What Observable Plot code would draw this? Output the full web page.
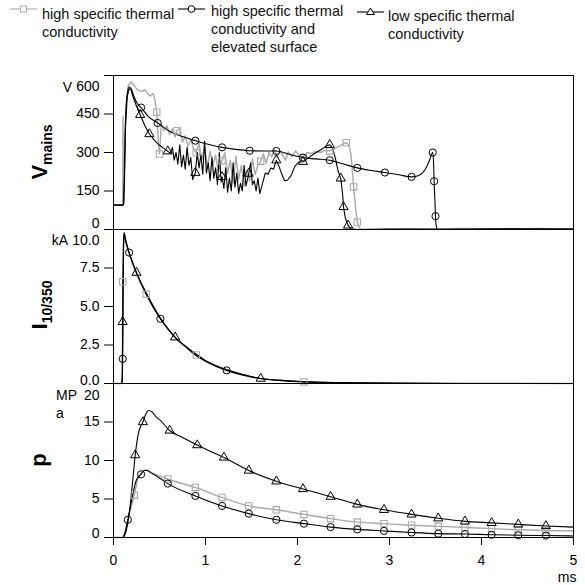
<!DOCTYPE html>
<html><head><meta charset="utf-8">
<script src="https://cdn.jsdelivr.net/npm/d3@7"></script>
<script src="https://cdn.jsdelivr.net/npm/@observablehq/plot@0.6"></script>
<style>
body{margin:0;background:#fff;font-family:"Liberation Sans",Arial,sans-serif;}
#wrap{position:relative;width:585px;height:585px;overflow:hidden;background:#fff;}
.panel{position:absolute;left:0;}
.lg{position:absolute;font-size:14.5px;line-height:18px;color:#111;white-space:nowrap;}
.ic{position:absolute;overflow:visible;}
</style></head><body><div id="wrap"></div>
<script>
// ---------- data ----------
const seriesNames = ["high specific thermal conductivity", "high specific thermal conductivity and elevated surface", "low specific thermal conductivity"];
const xTicks = [0, 1, 2, 3, 4, 5];
const vTicks = [0, 150, 300, 450, 600];
const iTicks = [0, 2.5, 5, 7.5, 10];
const pTicks = [0, 5, 10, 15, 20];

// V_mains (V) vs time (ms)
const vSquare = [[0,95],[0.1,95],[0.103,440],[0.108,140],[0.12,260],[0.135,480],[0.16,560],[0.19,575],[0.22,565],[0.25,548],[0.28,540],[0.31,538],[0.34,545],[0.37,530],[0.40,520],[0.43,530],[0.45,505],[0.47,457],[0.49,330],[0.50,294],[0.52,410],[0.55,385],[0.58,405],[0.61,370],[0.64,392],[0.67,360],[0.69,385],[0.72,395],[0.75,340],[0.78,365],[0.81,325],[0.84,350],[0.87,315],[0.90,300],[0.93,335],[0.96,270],[0.99,320],[1.02,245],[1.05,305],[1.08,250],[1.11,290],[1.14,225],[1.18,268],[1.21,300],[1.24,220],[1.27,270],[1.30,180],[1.33,285],[1.36,195],[1.39,250],[1.42,170],[1.45,230],[1.48,190],[1.51,275],[1.54,215],[1.57,250],[1.60,266],[1.63,295],[1.66,258],[1.69,300],[1.72,282],[1.75,312],[1.78,280],[1.81,305],[1.84,288],[1.87,270],[1.90,302],[1.94,284],[1.98,306],[2.02,288],[2.06,280],[2.10,300],[2.15,296],[2.20,305],[2.25,300],[2.30,308],[2.35,306],[2.40,314],[2.45,324],[2.50,334],[2.53,338],[2.56,328],[2.58,295],[2.60,215],[2.61,166],[2.63,90],[2.65,29],[2.67,6],[2.70,0],[3.0,3],[3.4,1],[3.8,4],[4.2,2],[4.6,4],[5.0,2]];
const vSquareM = [[0.47,457],[0.50,294],[0.69,385],[0.90,300],[1.18,268],[1.60,266],[2.06,280],[2.35,306],[2.53,338],[2.61,166],[2.65,29]];

const vCircle = [[0,95],[0.1,95],[0.11,100],[0.12,250],[0.13,420],[0.15,530],[0.17,555],[0.19,550],[0.22,520],[0.26,490],[0.30,475],[0.38,440],[0.48,415],[0.60,385],[0.75,362],[0.89,346],[1.05,330],[1.18,320],[1.33,312],[1.48,307],[1.62,306],[1.77,306],[1.92,292],[2.06,280],[2.20,275],[2.35,270],[2.50,255],[2.65,240],[2.80,230],[2.95,222],[3.10,213],[3.24,205],[3.32,210],[3.38,230],[3.43,265],[3.47,300],[3.48,250],[3.485,188],[3.495,100],[3.50,52],[3.51,10],[3.52,0],[4.0,2],[4.5,1],[5.0,2]];
const vCircleM = [[0.30,475],[0.48,415],[0.89,346],[1.18,320],[1.48,307],[1.77,306],[2.06,280],[2.35,270],[2.65,240],[2.95,222],[3.24,205],[3.47,300],[3.485,188],[3.50,52]];

const vTriangle = [[0,95],[0.1,95],[0.11,100],[0.12,200],[0.13,400],[0.15,520],[0.17,548],[0.19,545],[0.21,520],[0.25,480],[0.29,447],[0.34,405],[0.39,372],[0.45,345],[0.50,328],[0.55,315],[0.59,305],[0.62,296],[0.64,320],[0.66,270],[0.68,300],[0.70,255],[0.72,330],[0.74,245],[0.76,290],[0.78,235],[0.80,320],[0.82,250],[0.84,280],[0.86,195],[0.89,221],[0.91,300],[0.93,240],[0.95,290],[0.97,215],[0.99,345],[1.01,220],[1.03,260],[1.05,190],[1.07,280],[1.09,200],[1.11,240],[1.13,175],[1.15,300],[1.17,185],[1.18,205],[1.20,160],[1.22,240],[1.24,145],[1.26,200],[1.28,150],[1.30,260],[1.32,165],[1.34,220],[1.36,140],[1.38,180],[1.40,150],[1.42,250],[1.44,170],[1.47,218],[1.49,260],[1.51,175],[1.53,190],[1.55,150],[1.57,200],[1.59,140],[1.62,180],[1.65,220],[1.68,215],[1.71,240],[1.74,235],[1.77,270],[1.80,245],[1.83,215],[1.86,190],[1.89,192],[1.93,210],[1.97,245],[2.01,262],[2.06,264],[2.12,280],[2.18,295],[2.25,310],[2.31,325],[2.35,330],[2.38,318],[2.41,280],[2.44,230],[2.47,199],[2.49,140],[2.50,88],[2.52,45],[2.55,16],[2.58,3],[2.65,0],[3.2,2],[3.9,1],[4.5,3],[5.0,1]];
const vTriangleM = [[0.29,447],[0.39,372],[0.59,305],[0.89,221],[1.18,205],[1.47,218],[1.77,270],[2.06,264],[2.35,330],[2.47,199],[2.50,88],[2.55,16]];

// I 10/350 (kA)
const iSquare = [[0,0],[0.09,0],[0.095,0.4],[0.10,6.6],[0.105,8.6],[0.11,9.5],[0.115,9.6],[0.13,9.2],[0.17,8.4],[0.25,7.1],[0.355,5.8],[0.51,4.2],[0.67,3.0],[0.80,2.3],[0.90,1.85],[1.0,1.45],[1.23,0.85],[1.4,0.55],[1.6,0.32],[1.8,0.2],[2.07,0.1],[2.4,0.06],[2.8,0.05],[3.0,0.02],[4.0,0.02],[5.0,0.0]];
const iSquareM = [[0.10,6.6],[0.355,5.8],[0.90,1.85],[2.07,0.1]];
const iCircle = [[0,0],[0.09,0],[0.095,0.3],[0.10,1.6],[0.105,6.0],[0.11,9.0],[0.115,9.7],[0.13,9.3],[0.17,8.5],[0.25,7.2],[0.355,5.8],[0.51,4.2],[0.67,3.0],[0.80,2.3],[0.90,1.8],[1.0,1.45],[1.23,0.85],[1.4,0.55],[1.6,0.32],[1.8,0.2],[2.07,0.1],[2.4,0.05],[3.0,0.02],[4.0,0.0],[5.0,0.0]];
const iCircleM = [[0.10,1.6],[0.17,8.5],[0.51,4.2],[1.23,0.85]];
const iTriangle = [[0,0],[0.09,0],[0.095,0.3],[0.10,4.0],[0.105,7.5],[0.11,9.4],[0.115,9.8],[0.13,9.4],[0.17,8.5],[0.25,7.2],[0.355,5.9],[0.51,4.25],[0.67,3.0],[0.80,2.35],[0.90,1.9],[1.0,1.5],[1.23,0.9],[1.4,0.6],[1.6,0.32],[1.8,0.22],[2.07,0.12],[2.4,0.06],[3.0,0.03],[4.0,0.0],[5.0,0.0]];
const iTriangleM = [[0.10,4.0],[0.25,7.2],[0.67,3.0],[1.6,0.32]];

// p (MPa)
const pSquare = [[0,0],[0.10,0],[0.13,0.8],[0.17,3.0],[0.225,5.5],[0.27,7.8],[0.32,8.6],[0.36,8.8],[0.42,8.4],[0.50,8.0],[0.59,7.6],[0.89,6.5],[1.18,5.2],[1.47,4.1],[1.77,3.6],[2.07,3.0],[2.36,2.45],[2.65,2.0],[2.94,1.8],[3.24,1.6],[3.53,1.45],[3.82,1.3],[4.11,1.15],[4.40,1.0],[4.70,0.9],[5.0,0.85]];
const pSquareM = [[0.225,5.5],[0.59,7.6],[0.89,6.5],[1.18,5.2],[1.47,4.1],[1.77,3.6],[2.07,3.0],[2.36,2.45],[2.65,2.0],[2.94,1.8],[3.24,1.6],[3.53,1.45],[3.82,1.3],[4.11,1.15],[4.40,1.0],[4.70,0.9]];
const pCircle = [[0,0],[0.10,0],[0.12,0.5],[0.156,2.3],[0.20,5.0],[0.25,7.5],[0.30,8.2],[0.33,8.7],[0.36,8.7],[0.42,8.3],[0.48,7.9],[0.59,7.0],[0.89,5.4],[1.18,4.1],[1.47,3.1],[1.77,2.3],[2.07,1.8],[2.36,1.35],[2.65,1.05],[2.94,0.85],[3.24,0.65],[3.53,0.5],[3.82,0.45],[4.11,0.35],[4.40,0.3],[4.70,0.25],[5.0,0.2]];
const pCircleM = [[0.156,2.3],[0.30,8.2],[0.59,7.0],[0.89,5.4],[1.18,4.1],[1.47,3.1],[1.77,2.3],[2.07,1.8],[2.36,1.35],[2.65,1.05],[2.94,0.85],[3.24,0.65],[3.53,0.5],[3.82,0.45],[4.11,0.35],[4.40,0.3],[4.70,0.25]];
const pTriangle = [[0,0],[0.10,0],[0.14,1.0],[0.18,4.0],[0.21,7.5],[0.236,10.7],[0.27,13.5],[0.32,15.0],[0.35,16.0],[0.38,16.5],[0.42,16.3],[0.46,15.7],[0.51,15.2],[0.61,13.9],[0.75,13.0],[0.91,12.0],[1.05,11.2],[1.20,10.4],[1.47,8.7],[1.77,7.3],[2.06,6.3],[2.36,5.3],[2.65,4.3],[2.94,3.6],[3.24,3.0],[3.53,2.5],[3.82,2.1],[4.11,1.9],[4.40,1.7],[4.70,1.5],[5.0,1.35]];
const pTriangleM = [[0.236,10.7],[0.32,15.0],[0.61,13.9],[0.91,12.0],[1.20,10.4],[1.47,8.7],[1.77,7.3],[2.06,6.3],[2.36,5.3],[2.65,4.3],[2.94,3.6],[3.24,3.0],[3.53,2.5],[3.82,2.1],[4.11,1.9],[4.40,1.7],[4.70,1.5]];

// ---------- drawing ----------
const GRAY = "#a9a9a9", BLACK = "#000";
const FONT = "'Liberation Sans', Arial, sans-serif";
const wrap = document.getElementById("wrap");

function panel({top, height, mt, mb, ticks, fmt, topDy, botDy, sq, sqM, ci, ciM, tr, trM, noisy, xAxis}) {
  const X = d => d[0], Y = d => d[1];
  const mid = ticks.slice(1, -1);
  const marks = [
    Plot.line(sq, {x: X, y: Y, stroke: GRAY, strokeWidth: 1.4, curve: noisy ? "linear" : "monotone-x"}),
    Plot.line(ci, {x: X, y: Y, stroke: BLACK, strokeWidth: 1.1, curve: "monotone-x"}),
    Plot.line(tr, {x: X, y: Y, stroke: BLACK, strokeWidth: 1.1, curve: noisy ? "linear" : "monotone-x"}),
    Plot.dot(sqM, {x: X, y: Y, symbol: "square", r: 3.6, stroke: GRAY, strokeWidth: 1.1, fill: "none"}),
    Plot.dot(ciM, {x: X, y: Y, symbol: "circle", r: 3.6, stroke: BLACK, strokeWidth: 1, fill: "none"}),
    Plot.dot(trM, {x: X, y: Y, symbol: "triangle", r: 3.4, stroke: BLACK, strokeWidth: 1, fill: "none"}),
    Plot.frame({stroke: BLACK, strokeWidth: 1}),
    Plot.axisY(ticks, {tickSize: 9, fill: "none", label: null}),
    Plot.axisY(mid, {tickSize: 0, tickPadding: 14, tickFormat: fmt, label: null}),
    Plot.axisY([ticks[ticks.length - 1]], {tickSize: 0, tickPadding: 14, tickFormat: fmt, dy: topDy, label: null}),
    Plot.axisY([ticks[0]], {tickSize: 0, tickPadding: 14, tickFormat: fmt, dy: botDy, label: null})
  ];
  if (xAxis) {
    marks.push(Plot.axisX(xTicks, {tickSize: 8, tickPadding: 10, label: null}));
    marks.push(Plot.text(["ms"], {x: 5, y: 0, text: d => d, dy: 40, dx: 3, textAnchor: "end"}));
  }
  const svg = Plot.plot({
    width: 585, height,
    marginLeft: 113, marginRight: 12, marginTop: mt, marginBottom: mb,
    x: {domain: [0, 5], axis: null},
    y: {domain: [ticks[0], ticks[ticks.length - 1]], axis: null},
    style: {fontFamily: FONT, fontSize: "14px", color: "#000", background: "transparent", overflow: "visible"},
    marks
  });
  svg.classList.add("panel");
  svg.style.top = top + "px";
  svg.style.position = "absolute";
  wrap.appendChild(svg);
}

panel({top: 60, height: 169, mt: 15, mb: 0, ticks: vTicks, fmt: d3.format("d"), topDy: 11, botDy: -6,
  sq: vSquare, sqM: vSquareM, ci: vCircle, ciM: vCircleM, tr: vTriangle, trM: vTriangleM, noisy: true});
panel({top: 229, height: 154, mt: 0, mb: 0, ticks: iTicks, fmt: d3.format(".1f"), topDy: 11, botDy: -3,
  sq: iSquare, sqM: iSquareM, ci: iCircle, ciM: iCircleM, tr: iTriangle, trM: iTriangleM});
panel({top: 383, height: 202, mt: 0, mb: 48, ticks: pTicks, fmt: d3.format("d"), topDy: 12, botDy: -4,
  sq: pSquare, sqM: pSquareM, ci: pCircle, ciM: pCircleM, tr: pTriangle, trM: pTriangleM, xAxis: true});

// overlay: panel titles and units
const ov = d3.create("svg").attr("width", 585).attr("height", 585)
  .style("position", "absolute").style("left", 0).style("top", 0).style("overflow", "visible")
  .attr("font-family", FONT);
function unit(x, y, s, anchor) {
  ov.append("text").attr("x", x).attr("y", y).attr("dy", "0.35em").attr("text-anchor", anchor || "middle")
    .attr("font-size", 14).text(s);
}
unit(72, 87, "V", "end");
unit(68, 240, "kA", "end");
unit(56, 395, "MP", "start");
unit(56, 413, "a", "start");
function title(cx, cy, main, sub) {
  const t = ov.append("text").attr("transform", `translate(${cx},${cy}) rotate(-90)`)
    .attr("text-anchor", "middle").attr("font-weight", "bold");
  t.append("tspan").attr("font-size", 22).text(main);
  if (sub) t.append("tspan").attr("font-size", 14).attr("dy", 5).text(sub);
}
title(47, 152, "V", "mains");
title(47, 305, "I", "10/350");
title(46, 460, "p");
wrap.appendChild(ov.node());

// legend
function legendItem(iconX, iconY, textX, textY, lines, kind) {
  const s = d3.create("svg").attr("class", "ic").attr("width", 30).attr("height", 12)
    .style("left", iconX + "px").style("top", (iconY - 6) + "px");
  const col = kind === "square" ? GRAY : BLACK;
  s.append("line").attr("x1", 0).attr("x2", 27).attr("y1", 6).attr("y2", 6).attr("stroke", col).attr("stroke-width", 1.1);
  if (kind === "square") s.append("rect").attr("x", 10.5).attr("y", 3).attr("width", 6).attr("height", 6).attr("fill", "#fff").attr("stroke", col);
  if (kind === "circle") s.append("circle").attr("cx", 13.5).attr("cy", 6).attr("r", 3.4).attr("fill", "#fff").attr("stroke", col);
  if (kind === "triangle") s.append("path").attr("d", "M13.5,2 L17.5,8.5 L9.5,8.5 Z").attr("fill", "#fff").attr("stroke", col);
  wrap.appendChild(s.node());
  const d = document.createElement("div");
  d.className = "lg";
  d.style.left = textX + "px";
  d.style.top = textY + "px";
  d.innerHTML = lines.join("<br>");
  wrap.appendChild(d);
}
legendItem(10, 9, 42, 5, ["high specific thermal", "conductivity"], "square");
legendItem(178, 9, 211, 2, ["high specific thermal", "conductivity and", "elevated surface"], "circle");
legendItem(357, 12, 388, 7, ["low specific thermal", "conductivity"], "triangle");
</script></body></html>
